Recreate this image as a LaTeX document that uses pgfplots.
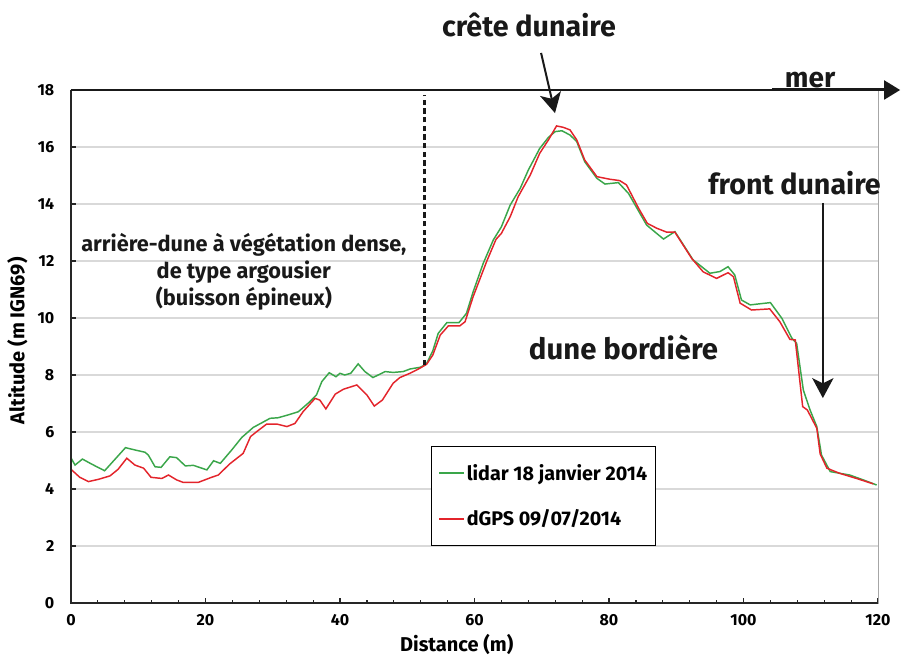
\documentclass[border=0pt]{standalone}
\usepackage{fontspec}
\setmainfont{Fira Sans}
\usepackage{pgfplots}
\pgfplotsset{compat=1.18}
\usetikzlibrary{arrows.meta}
\definecolor{lidar}{HTML}{3AA64A}
\definecolor{dgps}{HTML}{E3242B}
\definecolor{gridc}{HTML}{D9D9D9}
\begin{document}
\begin{tikzpicture}
\begin{axis}[
  scale only axis,
  width=605.25pt, height=384.75pt,
  xmin=0, xmax=120, ymin=0, ymax=18,
  clip=false,
  xtick={0,20,...,120}, ytick={0,2,...,18},
  minor x tick num=4,
  tick align=inside,
  xtick pos=bottom, ytick pos=left,
  major tick length=3.75pt, minor tick length=2.4pt,
  tick style={black!85, line width=0.9pt},
  ymajorgrids, major grid style={gridc, line width=0.8pt},
  axis line style={gray!70, line width=0.6pt},
  /pgf/number format/assume math mode=true,
  ticklabel style={font=\bfseries\fontsize{12}{14}\selectfont},
  yticklabel style={xshift=-9pt},
  xticklabel style={yshift=-5pt},
  xlabel={Distance (m)}, ylabel={Altitude (m IGN69)},
  label style={font=\bfseries\fontsize{15}{18}\selectfont},
  xlabel style={at={(axis description cs:0.478,-0.0815)}, anchor=center},
  ylabel style={at={(axis description cs:-0.0663,0.511)}, anchor=center},
  legend style={at={(axis description cs:0.446,0.306)}, anchor=north west,
    draw=black, line width=0.6pt, fill=white,
    font=\bfseries\fontsize{14.8}{17}\selectfont,
    inner xsep=5pt, inner ysep=12.5pt, row sep=18.5pt,
    nodes={inner sep=1pt}},
  legend cell align=left,
  legend image code/.code={\draw[#1, line width=1.6pt] (0pt,0pt) -- (19pt,0pt);},
]
\addplot[lidar, line width=1.1pt] coordinates {
(0.0,5.09) (0.6,4.84) (1.7,5.05) (3.1,4.87) (5.0,4.64) (8.1,5.45) (9.5,5.37)
(11.0,5.29) (11.5,5.19) (12.5,4.78) (13.4,4.76) (14.7,5.13) (15.7,5.10)
(17.0,4.81) (18.2,4.83) (20.2,4.67) (21.2,4.99) (22.2,4.90) (23.9,5.37)
(25.4,5.81) (27.1,6.16) (29.6,6.48) (30.8,6.50) (32.3,6.60) (33.8,6.71)
(35.5,7.06) (36.5,7.30) (37.3,7.77) (38.4,8.08) (39.4,7.94) (40.0,8.06)
(40.7,8.00) (41.6,8.06) (42.7,8.39) (43.7,8.12) (44.9,7.91) (46.7,8.12)
(47.9,8.09) (49.4,8.12) (50.4,8.21) (51.9,8.27) (52.6,8.35) (52.9,8.41)
(53.8,8.85) (54.6,9.46) (55.9,9.84) (57.7,9.84) (58.8,10.16) (59.8,10.92)
(61.3,11.92) (62.8,12.74) (64.0,13.20) (65.3,13.96) (66.8,14.55) (68.0,15.19)
(69.7,15.95) (71.0,16.34) (72.0,16.54) (73.0,16.57) (74.2,16.42) (75.2,16.19)
(76.4,15.48) (78.2,14.90) (79.4,14.70) (81.4,14.75) (82.9,14.37) (85.6,13.26)
(88.1,12.77) (89.8,13.03) (92.5,12.04) (95.0,11.57) (96.5,11.63) (97.7,11.80)
(98.7,11.51) (99.7,10.63) (101.0,10.46) (104.0,10.54) (105.7,9.99) (107.2,9.29)
(107.9,9.11) (108.9,7.47) (109.9,6.77) (110.9,6.19) (111.6,5.19) (112.9,4.61)
(115.8,4.49) (117.8,4.32) (119.8,4.14)
};
\addlegendentry{lidar 18 janvier 2014}
\addplot[dgps, line width=1.1pt] coordinates {
(0.1,4.67) (1.3,4.41) (2.6,4.26) (4.1,4.34) (5.8,4.46) (7.0,4.69) (8.3,5.08)
(9.5,4.84) (10.8,4.73) (11.9,4.41) (13.5,4.37) (14.5,4.49) (15.7,4.32)
(16.7,4.23) (18.9,4.23) (20.9,4.41) (21.9,4.49) (23.6,4.88) (25.6,5.25)
(26.7,5.84) (27.6,6.01) (29.1,6.28) (30.6,6.28) (32.1,6.19) (33.3,6.30)
(34.5,6.71) (36.3,7.18) (37.0,7.12) (37.9,6.81) (39.3,7.33) (40.5,7.50)
(42.5,7.65) (44.0,7.30) (45.1,6.91) (46.3,7.12) (47.9,7.71) (48.9,7.91)
(50.4,8.06) (51.9,8.24) (52.9,8.38) (53.8,8.70) (54.9,9.40) (56.1,9.72)
(57.8,9.72) (58.6,9.87) (59.8,10.75) (61.8,11.98) (63.2,12.76) (64.0,12.97)
(65.3,13.55) (66.5,14.26) (68.3,15.02) (69.7,15.78) (71.0,16.25) (72.2,16.74)
(73.2,16.69) (74.2,16.60) (75.2,16.25) (76.4,15.54) (78.2,14.96) (80.1,14.87)
(81.6,14.82) (82.6,14.67) (84.4,13.85) (85.7,13.32) (87.1,13.15) (88.6,13.01)
(89.8,13.01) (92.3,12.09) (94.0,11.62) (96.0,11.39) (97.7,11.59) (98.5,11.45)
(99.5,10.52) (101.2,10.28) (103.9,10.32) (105.4,9.87) (106.9,9.25) (107.7,9.23)
(108.8,6.89) (109.5,6.77) (110.9,6.13) (111.4,5.23) (112.4,4.73) (114.3,4.55)
(116.8,4.37) (119.3,4.18)
};
\addlegendentry{dGPS 09/07/2014}
% vertical dashed limit
\addplot[black!90, line width=1.6pt, dash pattern=on 4pt off 2.5pt, forget plot]
  coordinates {(52.56,8.35) (52.56,17.82)};
% frame lines
\draw[black!85, line width=1.1pt] (rel axis cs:0,1) -- (rel axis cs:0,0) -- (rel axis cs:1,0);
\draw[black!90, line width=0.8pt] (rel axis cs:0,1) -- (rel axis cs:1,1);
% annotations
\draw[black!90, line width=2.25pt, -{Triangle[length=12pt,width=14pt]}]
  (axis cs:104.2,18) -- (axis cs:123.3,18);
\node[anchor=base, font=\bfseries\fontsize{21}{24}\selectfont, inner sep=0pt, text=black!90]
  at (axis cs:109.9,18.1) {mer};
\node[anchor=base, font=\bfseries\fontsize{21.5}{25}\selectfont, inner sep=0pt, text=black!90]
  at (axis cs:68.1,19.89) {crête dunaire};
\draw[black!90, line width=1.5pt, -{Stealth[length=15pt,width=16pt,inset=4pt]}]
  (axis cs:69.9,19.3) -- (axis cs:71.97,17.19);
\node[anchor=base, font=\bfseries\fontsize{21.5}{25}\selectfont, inner sep=0pt, text=black!90]
  at (axis cs:107.6,14.35) {front dunaire};
\draw[black!90, line width=1.5pt, -{Stealth[length=15pt,width=16pt,inset=4pt]}]
  (axis cs:111.8,14.04) -- (axis cs:111.8,7.19);
\node[anchor=base, font=\bfseries\fontsize{22}{26}\selectfont, inner sep=0pt, text=black!90]
  at (axis cs:82.16,8.53) {dune bordière};
\node[anchor=base, font=\bfseries\fontsize{16.3}{20}\selectfont, inner sep=0pt, text=black!90]
  at (axis cs:25.7,12.32) {arrière-dune à végétation dense,};
\node[anchor=base, font=\bfseries\fontsize{16.3}{20}\selectfont, inner sep=0pt, text=black!90]
  at (axis cs:25.7,11.39) {de type argousier};
\node[anchor=base, font=\bfseries\fontsize{16.3}{20}\selectfont, inner sep=0pt, text=black!90]
  at (axis cs:25.7,10.44) {(buisson épineux)};
\coordinate (BL) at (rel axis cs:0,0);
\coordinate (TR) at (rel axis cs:1,1);
\end{axis}
\pgfresetboundingbox
\path[use as bounding box] ([shift={(-53.25pt,-40.5pt)}]BL) rectangle ([shift={(19.5pt,67.5pt)}]TR);
\end{tikzpicture}
\end{document}
